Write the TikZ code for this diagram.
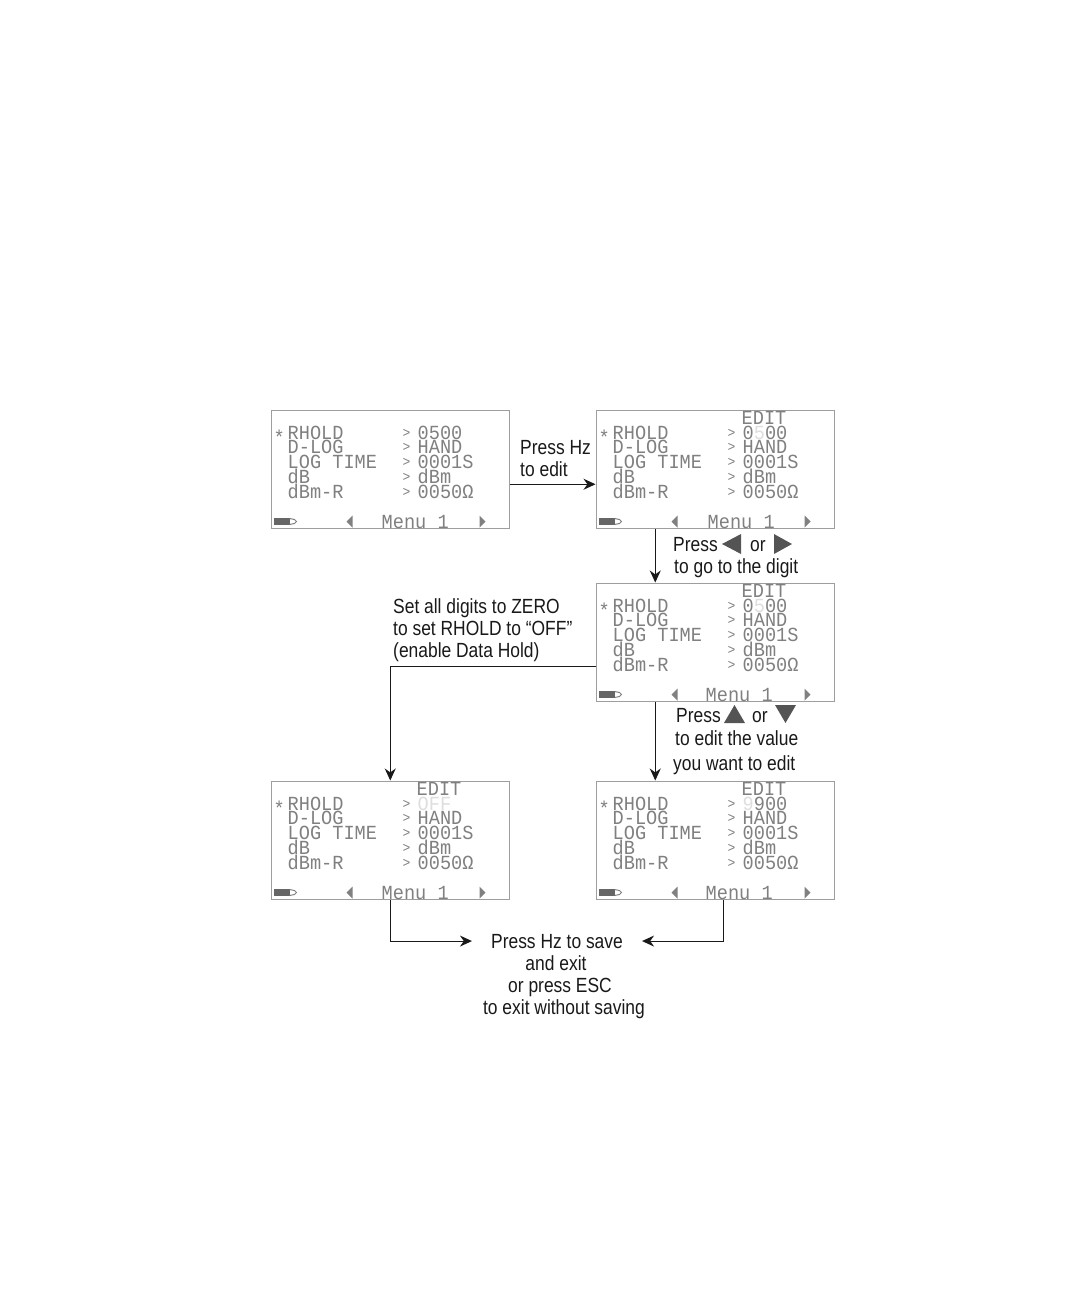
\documentclass[tikz,border=0pt]{standalone}
\usepackage{fontspec}
\usepackage{tikz}
\usetikzlibrary{arrows.meta}
\setmainfont[FakeStretch=0.85]{Liberation Sans}
\newfontfamily\lcdfont[FakeStretch=0.93]{Liberation Mono}
\definecolor{lcdgrey}{gray}{0.5}
\definecolor{lcdoff}{gray}{0.87}
\definecolor{keygrey}{gray}{0.33}
\tikzset{
  lcdbox/.style={draw=black!38, line width=1pt, fill=white, anchor=north west, inner sep=0pt, minimum width=238.5pt, minimum height=118.5pt},
  lcdtext/.style={anchor=base west, inner sep=0pt, text=lcdgrey, font=\lcdfont\fontsize{20}{20}\selectfont},
  lcdsep/.style={lcdtext, font=\lcdfont\fontsize{14}{14}\selectfont},
  caption/.style={anchor=base west, inner sep=0pt, text=black!90, font=\fontsize{20.5}{22}\selectfont},
  flow/.style={-{Stealth[length=12pt,width=11pt]}, line width=1pt, black!90},
}
% #1 name, #2 x, #3 y, #4 header, #5 first value, #6 x of menu text
\newcommand{\lcdscreen}[6]{
\begin{scope}[shift={(#2,#3)}]
\node[lcdbox] (#1) at (0,0) {};
\node[lcdtext] (#1-edit) at (146,15) {#4};
\node[lcdtext] (#1-star) at (3,34.5) {*};
\foreach \rowy/\rowlabel/\rowvalue [count=\k] in {29.6/RHOLD/#5, 44.4/D-LOG/HAND, 59.2/LOG TIME/0001S, 74/dB/dBm, 88.8/dBm-R/0050Ω}{
  \node[lcdtext] (#1-label\k) at (17,\rowy) {\rowlabel};
  \node[lcdsep] (#1-sep\k) at (132,\rowy-2) {>};
  \node[lcdtext] (#1-value\k) at (147,\rowy) {\rowvalue};
}
\node[lcdtext] (#1-menu) at (#6,119) {Menu 1};
\fill[lcdgrey!80!black] (3,108.5) rectangle (19,115.5);
\draw[lcdgrey, line width=1pt] (19,109) -- (24,110) -- (26,112) -- (24,114) -- (19,115);
\fill[lcdgrey] (76,112) -- (82,106) -- (82,118) -- cycle;
\fill[lcdgrey] (215,112) -- (209,106) -- (209,118) -- cycle;
\end{scope}
}
\begin{document}
\begin{tikzpicture}[x=1pt,y=-1pt]
\useasboundingbox (0,0) rectangle (1080,1296);
\lcdscreen{hold}{270.5}{409.5}{}{0500}{111}
\lcdscreen{edit}{595.5}{409.5}{EDIT}{0\textcolor{lcdoff}{5}00}{112}
\lcdscreen{digit}{595.5}{582.5}{EDIT}{0\textcolor{lcdoff}{5}00}{110}
\lcdscreen{off}{270.5}{780.5}{EDIT}{\textcolor{lcdoff}{OFF}}{111}
\lcdscreen{value}{595.5}{780.5}{EDIT}{\textcolor{lcdoff}{9}900}{110}

\node[caption] (hz1) at (520,454) {Press Hz};
\node[caption] (hz2) at (520,476) {to edit};
\node[caption] (go1) at (673,551) {Press};
\node[caption] (go2) at (750,551) {or};
\node[caption] (go3) at (674,573) {to go to the digit};
\node[caption] (zero1) at (393,613) {Set all digits to ZERO};
\node[caption] (zero2) at (393,635) {to set RHOLD to “OFF”};
\node[caption] (zero3) at (393,657) {(enable Data Hold)};
\node[caption] (val1) at (676,722) {Press};
\node[caption] (val2) at (752,722) {or};
\node[caption] (val3) at (675,745) {to edit the value};
\node[caption] (val4) at (673,770) {you want to edit};
\node[caption, anchor=base, inner xsep=19pt] (save1) at (557,948) {Press Hz to save};
\node[caption, anchor=base] (save2) at (556,970) {and exit};
\node[caption, anchor=base] (save3) at (560,992) {or press ESC};
\node[caption, anchor=base] (save4) at (564,1014) {to exit without saving};

\fill[keygrey] (722,544) -- (741,534) -- (741,554) -- cycle;
\fill[keygrey] (792,544) -- (774,534) -- (774,554) -- cycle;
\fill[keygrey] (734.5,705) -- (745,723) -- (724,723) -- cycle;
\fill[keygrey] (785.5,723) -- (775,705) -- (796,705) -- cycle;

\draw[flow] ([yshift=-15pt]hold.east) -- ([yshift=-15pt]edit.west);
\draw[flow] ([xshift=-60pt]edit.south) -- ([xshift=-60pt]digit.north);
\draw[flow] ([xshift=-60pt]digit.south) -- ([xshift=-60pt]value.north);
\draw[flow] ([yshift=-24pt]digit.west) -| (off.north);
\draw[flow] (off.south) |- (save1.west);
\draw[flow] ([xshift=8pt]value.south) |- (save1.east);
\end{tikzpicture}
\end{document}
